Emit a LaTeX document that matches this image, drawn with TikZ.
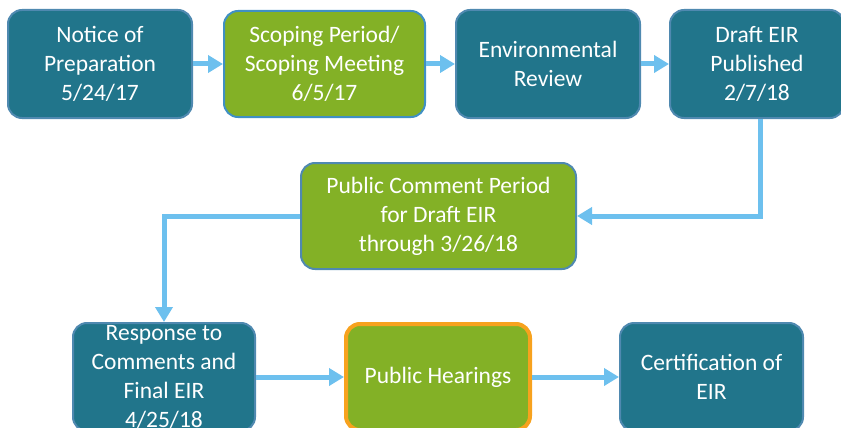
\documentclass[tikz,border=0pt]{standalone}
\usepackage{fontspec}
\setmainfont{Carlito}
\usetikzlibrary{arrows.meta}
\definecolor{teal1}{HTML}{21758B}
\definecolor{tealbd}{HTML}{4F89B0}
\definecolor{green1}{HTML}{83B126}
\definecolor{greenbd}{HTML}{3F90C4}
\definecolor{arr}{HTML}{6DC0EE}
\definecolor{orng}{HTML}{F7A21E}
\tikzset{
  box/.style={rectangle, rounded corners=14pt, text=white, align=center,
    font=\fontsize{23.5}{29}\selectfont, inner sep=0pt, line width=2pt},
  tealbox/.style={box, fill=teal1, draw=tealbd},
  greenbox/.style={box, fill=green1, draw=greenbd},
  conn/.style={draw=arr, line width=5pt, -{Triangle[length=15pt,width=17pt]}},
}
\begin{document}
\begin{tikzpicture}[x=1pt,y=-1pt]
\useasboundingbox (0,0) rectangle (841,428);
\node[tealbox, minimum width=184pt, minimum height=108pt] (b1) at (100,64) {Notice of\\Preparation\\5/24/17};
\node[greenbox, minimum width=201pt, minimum height=106pt] (b2) at (324.5,64) {Scoping Period/\\Scoping Meeting\\6/5/17};
\node[tealbox, minimum width=184pt, minimum height=108pt] (b3) at (548,64) {Environmental\\Review};
\node[tealbox, minimum width=174pt, minimum height=108pt] (b4) at (757,64) {Draft EIR\\Published\\2/7/18};
\node[greenbox, draw=tealbd, minimum width=275pt, minimum height=106pt] (pcp) at (438.5,216) {Public Comment Period\\for Draft EIR\\through 3/26/18};
\node[tealbox, minimum width=182pt, minimum height=108pt] (resp) at (164,377) {Response to\\Comments and\\Final EIR\\4/25/18};
\node[greenbox, draw=orng, line width=4pt, minimum width=184pt, minimum height=106pt] (ph) at (438,377) {Public Hearings};
\node[tealbox, minimum width=183pt, minimum height=108pt] (cert) at (711.5,377) {Certification of\\EIR};
\draw[conn] (b1) -- (b2);
\draw[conn] (b2) -- (b3);
\draw[conn] (b3) -- (b4);
\draw[conn] ([xshift=3pt]b4.south) |- (pcp.east);
\draw[conn] (pcp.west) -| (resp.north);
\draw[conn] (resp) -- (ph);
\draw[conn] (ph) -- (cert);
\end{tikzpicture}
\end{document}
